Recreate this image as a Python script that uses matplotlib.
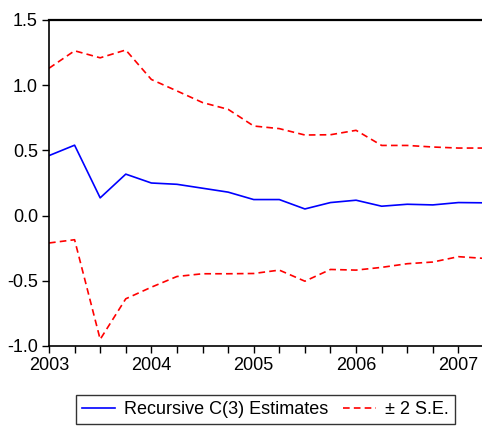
import matplotlib
matplotlib.use('Agg')
import matplotlib.pyplot as plt
from matplotlib.ticker import MultipleLocator, FixedLocator, FormatStrFormatter
import numpy as np

plt.rcParams['font.family'] = ['Liberation Sans', 'DejaVu Sans']

# quarterly sample 2003Q1 .. 2007Q2
years = ['2003', '2004', '2005', '2006', '2007']
estimate = [0.46, 0.54, 0.136, 0.318, 0.25, 0.24, 0.21, 0.18,
            0.123, 0.123, 0.051, 0.10, 0.118, 0.072, 0.087, 0.082,
            0.10, 0.098]
upper = [1.13, 1.264, 1.21, 1.27, 1.044, 0.956, 0.867, 0.815,
         0.687, 0.667, 0.618, 0.62, 0.654, 0.538, 0.538, 0.526,
         0.518, 0.518]
lower = [-0.21, -0.185, -0.949, -0.638, -0.549, -0.467, -0.446, -0.446,
         -0.444, -0.418, -0.503, -0.413, -0.418, -0.397, -0.369, -0.356,
         -0.315, -0.328]

q = np.arange(len(estimate))

fig = plt.figure(figsize=(4.82, 4.28), dpi=100)
ax = fig.add_axes([49 / 482, 1 - 346 / 428, (484 - 49) / 482, (346 - 20) / 428])

ax.plot(q, estimate, color='#0000ff', lw=1.2, label='Recursive C(3) Estimates')
ax.plot(q, upper, color='#ff0000', lw=1.2, ls=(0, (4, 2.5)), label='± 2 S.E.')
ax.plot(q, lower, color='#ff0000', lw=1.2, ls=(0, (4, 2.5)))

ax.set_xlim(0, len(q) - 1)
ax.set_ylim(-1.0, 1.5)
ax.xaxis.set_major_locator(FixedLocator(np.arange(0, len(q), 4)))
ax.set_xticklabels(years)
ax.xaxis.set_minor_locator(MultipleLocator(1))
ax.yaxis.set_major_locator(MultipleLocator(0.5))
ax.yaxis.set_major_formatter(FormatStrFormatter('%.1f'))

ax.tick_params(axis='both', which='both', direction='out', length=5, width=1,
               labelsize=13, colors='black')
ax.tick_params(axis='x', which='minor', length=5)
ax.tick_params(axis='x', pad=3)
ax.tick_params(axis='y', pad=3)
for side in ['left', 'bottom']:
    ax.spines[side].set_linewidth(1.2)
ax.spines['top'].set_linewidth(1.6)
ax.spines['right'].set_visible(False)

leg = fig.legend(loc='center', bbox_to_anchor=(265.5 / 482, 1 - 409.5 / 428),
                 ncol=2, fontsize=13, frameon=True, fancybox=False,
                 handlelength=1.8, columnspacing=0.85, handletextpad=0.5,
                 borderpad=0.35)
leg.get_frame().set_edgecolor('black')
leg.get_frame().set_linewidth(1)

fig.savefig('out.png', dpi=100, facecolor='white')
